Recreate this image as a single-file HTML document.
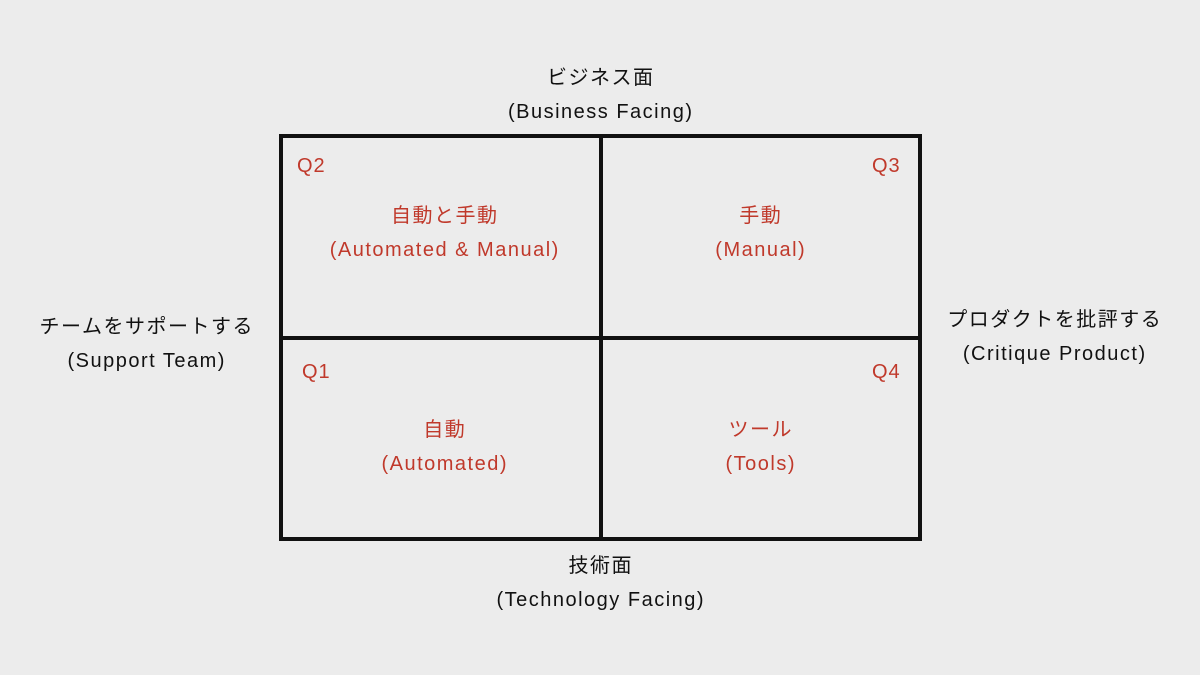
<!DOCTYPE html>
<html><head><meta charset="utf-8"><style>
html,body{margin:0;padding:0}
body{width:1200px;height:675px;background:#ececec;position:relative;overflow:hidden;font-family:"Liberation Sans","Noto Sans CJK JP",sans-serif}
.t{position:absolute;text-align:center;font-size:20px;line-height:34px;color:#111;white-space:nowrap;transform:translateX(-50%);letter-spacing:1.5px;padding-left:1.5px}
.r{color:#c0392b}
.q{position:absolute;font-size:20px;color:#c0392b;letter-spacing:1px}
.l{position:absolute;background:#111}
</style></head><body>
<div class="l" style="left:279px;top:134px;width:643px;height:4px"></div>
<div class="l" style="left:279px;top:537px;width:643px;height:4px"></div>
<div class="l" style="left:279px;top:134px;width:4px;height:407px"></div>
<div class="l" style="left:918px;top:134px;width:4px;height:407px"></div>
<div class="l" style="left:599px;top:134px;width:4px;height:407px"></div>
<div class="l" style="left:279px;top:336px;width:643px;height:4px"></div>
<div class="t" style="left:600px;top:61px">ビジネス面<br>(Business Facing)</div>
<div class="t" style="left:600px;top:549px">技術面<br>(Technology Facing)</div>
<div class="t" style="left:146px;top:310px">チームをサポートする<br>(Support Team)</div>
<div class="t" style="left:1054px;top:303px">プロダクトを批評する<br>(Critique Product)</div>
<div class="q" style="left:297px;top:155px">Q2</div>
<div class="q" style="left:872px;top:155px">Q3</div>
<div class="q" style="left:302px;top:361px">Q1</div>
<div class="q" style="left:872px;top:361px">Q4</div>
<div class="t r" style="left:444px;top:199px">自動と手動<br>(Automated &amp; Manual)</div>
<div class="t r" style="left:760px;top:199px">手動<br>(Manual)</div>
<div class="t r" style="left:444px;top:413px">自動<br>(Automated)</div>
<div class="t r" style="left:760px;top:413px">ツール<br>(Tools)</div>
</body></html>
